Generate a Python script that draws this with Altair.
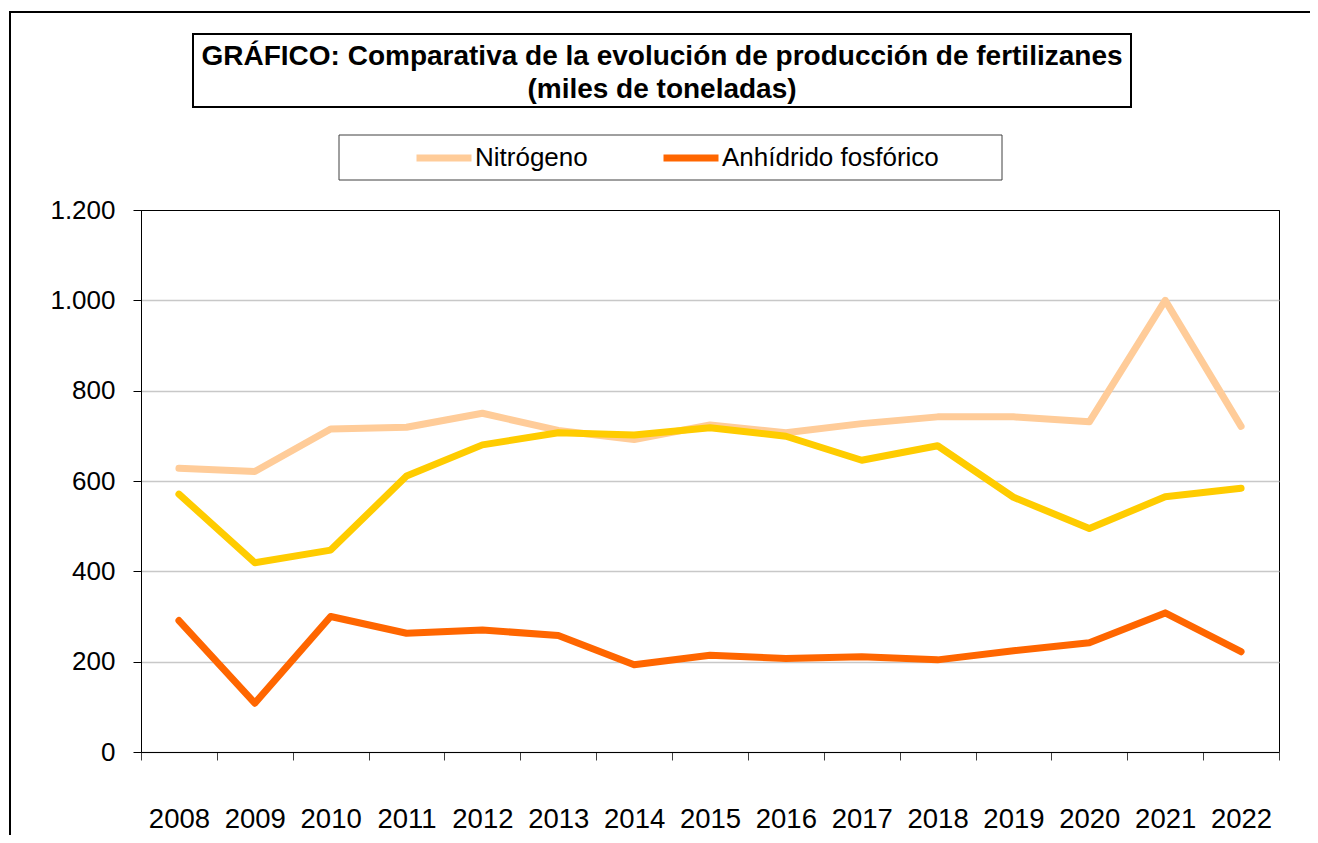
import altair as alt
import pandas as pd

# ---- data ----
years = list(range(2008, 2023))
nitrogeno = [628, 621, 715, 719, 750, 712, 692, 724, 707, 727, 742, 742, 731, 1000, 721]
potasa = [571, 419, 447, 611, 680, 707, 702, 718, 699, 646, 678, 564, 495, 565, 584]
fosforico = [291, 108, 300, 263, 270, 258, 193, 214, 207, 211, 204, 224, 242, 308, 222]

series_names = ["Nitrógeno", "Anhídrido fosfórico", "Potasa"]
series_colors = ["#FFCC99", "#FF6600", "#FFCC00"]
legend_names = ["Nitrógeno", "Anhídrido fosfórico"]

title_lines = ["GRÁFICO: Comparativa de la evolución de producción de fertilizanes",
               "(miles de toneladas)"]

y_ticks = [0, 200, 400, 600, 800, 1000, 1200]
x_bounds = [y - 0.5 for y in years] + [years[-1] + 0.5]

FONT = "Liberation Sans"
W, H = 1138, 542
band = W / len(years)

rows = []
for name, vals in [("Nitrógeno", nitrogeno), ("Potasa", potasa), ("Anhídrido fosfórico", fosforico)]:
    for yr, v in zip(years, vals):
        rows.append({"year": yr, "value": v, "serie": name})
df = pd.DataFrame(rows)

x_enc = alt.X(
    "year:Q",
    scale=alt.Scale(domain=[years[0] - 0.5, years[-1] + 0.5], nice=False, zero=False),
    axis=alt.Axis(
        values=x_bounds,
        labelExpr=f"datum.value > {years[-1]} ? '' : toString(datum.value + 0.5)",
        labelOffset=band / 2,
        labelFlush=False,
        labelOverlap=False,
        labelFontSize=27.5,
        labelFont=FONT,
        labelColor="black",
        labelPadding=45,
        tickSize=8,
        tickColor="#404040",
        domainColor="black",
        grid=False,
        title=None,
    ),
)
y_enc = alt.Y(
    "value:Q",
    scale=alt.Scale(domain=[0, 1200], nice=False),
    axis=alt.Axis(
        values=y_ticks,
        labelExpr="replace(format(datum.value, ','), ',', '.')",
        labelFontSize=26,
        labelFont=FONT,
        labelColor="black",
        labelPadding=18,
        tickSize=8,
        tickColor="black",
        domainColor="black",
        grid=True,
        gridColor={"condition": {"test": "datum.value >= 1200", "value": "black"}, "value": "#C8C8C8"},
        gridWidth={"condition": {"test": "datum.value >= 1200", "value": 1}, "value": 1.5},
        title=None,
    ),
)
color_enc = alt.Color(
    "serie:N",
    scale=alt.Scale(domain=series_names, range=series_colors),
    legend=alt.Legend(
        values=legend_names,
        orient="none",
        legendX=272,
        legendY=-83,
        direction="horizontal",
        symbolType="stroke",
        symbolSize=3025,
        symbolStrokeWidth=7,
        labelFontSize=26,
        labelFont=FONT,
        labelColor="black",
        labelOffset=0,
        labelLimit=0,
        columnPadding=61,
        padding=0,
        title=None,
    ),
)

one = pd.DataFrame({"k": [0]})

outer = alt.Chart(one).mark_rect(fill=None, stroke="black", strokeWidth=2).encode(
    x=alt.value(-131), x2=alt.value(1300), y=alt.value(-198), y2=alt.value(800)
)
title_box = alt.Chart(one).mark_rect(fill="white", stroke="black", strokeWidth=2).encode(
    x=alt.value(52), x2=alt.value(990), y=alt.value(-176), y2=alt.value(-103)
)
legend_box = alt.Chart(one).mark_rect(fill="white", stroke="#404040", strokeWidth=1).encode(
    x=alt.value(198), x2=alt.value(861), y=alt.value(-75), y2=alt.value(-30)
)

title_df = pd.DataFrame({"t": title_lines, "i": [0, 1]})
title_text = alt.Chart(title_df).mark_text(
    font=FONT, fontSize=28, fontWeight="bold", align="center", baseline="middle", color="black"
).encode(
    text="t:N",
    x=alt.value(521),
    y=alt.value(-153),
).transform_filter("datum.i == 0")
title_text2 = alt.Chart(title_df).mark_text(
    font=FONT, fontSize=28, fontWeight="bold", align="center", baseline="middle", color="black"
).encode(
    text="t:N",
    x=alt.value(521),
    y=alt.value(-120),
).transform_filter("datum.i == 1")

def line_layer(name):
    return alt.Chart(df).transform_filter(alt.datum.serie == name).mark_line(
        strokeWidth=7, strokeCap="round", strokeJoin="round"
    ).encode(x=x_enc, y=y_enc, color=color_enc)

chart = alt.layer(
    outer,
    title_box,
    legend_box,
    line_layer("Nitrógeno"),
    line_layer("Potasa"),
    line_layer("Anhídrido fosfórico"),
    title_text,
    title_text2,
).properties(
    width=W,
    height=H,
    autosize=alt.AutoSizeParams(type="none"),
    padding={"left": 133, "top": 202, "right": 31, "bottom": 83},
    background="white",
).configure_view(stroke="black", strokeWidth=1)

chart.save("out.html", embed_options={"renderer": "svg", "actions": False})
